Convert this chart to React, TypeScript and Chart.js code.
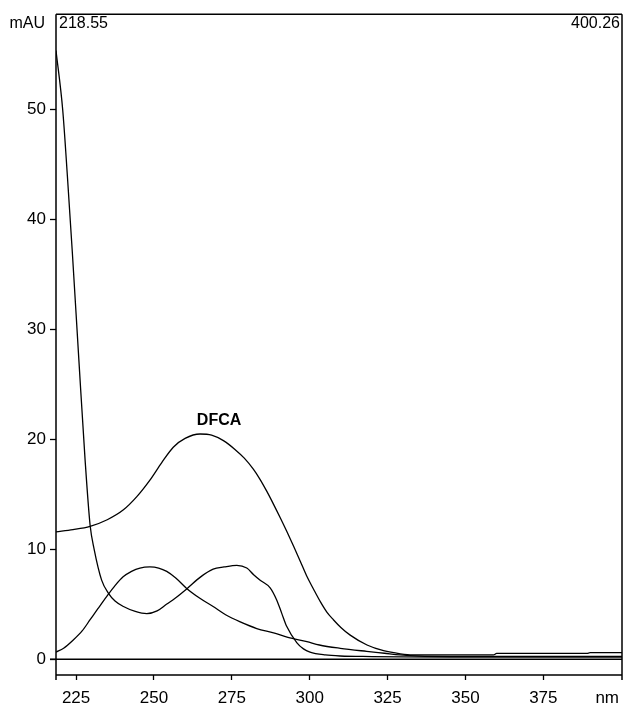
import React, { useEffect, useRef } from "react";
import { Chart, registerables } from "chart.js";

Chart.register(...registerables);

// ---- Data (wavelength in nm, absorbance in mAU) ----
const xMin = 218.55;
const xMax = 400.26;
const yMin = -1.43;
const yMax = 58.7;

const xTicks = [225, 250, 275, 300, 325, 350, 375];
const yTicks = [0, 10, 20, 30, 40, 50];

const xAxisUnit = "nm";
const yAxisUnit = "mAU";
const rangeStartLabel = "218.55";
const rangeEndLabel = "400.26";

// Steep curve (decaying, minimum ~248 nm, peak ~277 nm)
const nmA = [
  218.55, 220.7, 222.2, 223.8, 225.9, 227.9, 229.5, 230.8, 233.2, 235.4, 237.5,
  240.2, 244, 247.7, 251, 254, 257, 260.5, 265, 269, 272.5, 276.6, 279.8, 282,
  284.1, 287.3, 289.4, 291, 292.6, 295.9, 298, 300.1, 305, 309.8, 320, 330, 345,
  400.26,
];
const mauA = [
  55.4, 50, 44, 37, 27.2, 18.1, 12.2, 10, 7.2, 6.0, 5.3, 4.8, 4.35, 4.15, 4.4,
  5.0, 5.6, 6.4, 7.5, 8.2, 8.4, 8.55, 8.3, 7.7, 7.2, 6.5, 5.4, 4.2, 3.0, 1.5,
  0.95, 0.66, 0.4, 0.3, 0.25, 0.22, 0.2, 0.2,
];

// Curve with maximum ~249 nm
const nmB = [
  218.55, 221, 224.1, 227, 229.5, 232, 234.8, 237.5, 240.1, 242.8, 245.5, 248.7,
  251.5, 254.1, 257, 260.5, 264.5, 269, 273, 277.7, 283, 288.4, 293, 299.1,
  303.1, 309.8, 318.3, 324, 329, 335, 345, 400.26,
];
const mauB = [
  0.65, 1.0, 1.75, 2.6, 3.6, 4.6, 5.7, 6.7, 7.5, 8.0, 8.3, 8.4, 8.3, 8.0, 7.4,
  6.45, 5.6, 4.8, 4.05, 3.4, 2.8, 2.4, 2.0, 1.6, 1.3, 1.0, 0.72, 0.55, 0.4, 0.3,
  0.27, 0.27,
];

// DFCA (broad band, maximum ~265 nm)
const nmC = [
  218.55, 224, 229.5, 235, 240.2, 244.5, 248.7, 252.5, 256.2, 260, 264.8, 268.5,
  272.3, 276, 279, 281.9, 284, 286.2, 288.4, 290.5, 292.7, 294.8, 297, 299,
  301.2, 303.5, 305.5, 307.6, 310, 313, 318.4, 323.7, 329.1, 333, 359, 360, 389,
  390, 400.26,
];
const mauC = [
  11.6, 11.8, 12.1, 12.7, 13.6, 14.8, 16.3, 17.9, 19.3, 20.1, 20.5, 20.4, 19.9,
  19.1, 18.3, 17.3, 16.4, 15.3, 14.1, 12.9, 11.6, 10.3, 8.9, 7.6, 6.4, 5.2, 4.3,
  3.6, 2.9, 2.2, 1.3, 0.78, 0.5, 0.4, 0.4, 0.53, 0.53, 0.6, 0.6,
];

const dfcaLabel = "DFCA";
const dfcaLabelAt = { nm: 270.9, mau: 21.35 };

const FONT = "'Liberation Sans', Arial, Helvetica, sans-serif";

function toPoints(xs: number[], ys: number[]) {
  return xs.map((x, i) => ({ x, y: ys[i] }));
}

const framePlugin = {
  id: "frameAndLabels",
  afterDraw(chart: any) {
    const { ctx, chartArea, scales } = chart;
    const { left, top, right, bottom } = chartArea;
    const xs = scales.x;
    const ys = scales.y;
    ctx.save();
    ctx.strokeStyle = "#000";
    ctx.lineWidth = 1.5;
    ctx.beginPath();
    ctx.moveTo(left, top);
    ctx.lineTo(right, top);
    ctx.moveTo(left, top);
    ctx.lineTo(left, bottom + 5);
    ctx.moveTo(right, top);
    ctx.lineTo(right, bottom + 5);
    ctx.moveTo(left, bottom);
    ctx.lineTo(right, bottom);
    ctx.stroke();

    // zero line
    const y0 = ys.getPixelForValue(0);
    ctx.beginPath();
    ctx.lineWidth = 1.5;
    ctx.moveTo(left - 6, y0);
    ctx.lineTo(right, y0);
    ctx.stroke();

    ctx.fillStyle = "#000";
    ctx.textBaseline = "alphabetic";
    ctx.font = `16px ${FONT}`;
    ctx.textAlign = "right";
    ctx.fillText(yAxisUnit, left - 11, top + 14);
    ctx.textAlign = "left";
    ctx.fillText(rangeStartLabel, left + 3, top + 14);
    ctx.textAlign = "right";
    ctx.fillText(rangeEndLabel, right - 2, top + 14);

    ctx.font = `17px ${FONT}`;
    ctx.textAlign = "right";
    ctx.fillText(xAxisUnit, right - 3, bottom + 28);

    ctx.font = `bold 16px ${FONT}`;
    ctx.textAlign = "center";
    ctx.fillText(
      dfcaLabel,
      xs.getPixelForValue(dfcaLabelAt.nm),
      ys.getPixelForValue(dfcaLabelAt.mau)
    );
    ctx.restore();
  },
};

export default function App() {
  const canvasRef = useRef<HTMLCanvasElement | null>(null);

  useEffect(() => {
    const canvas = canvasRef.current;
    if (!canvas) return;
    const lineStyle = {
      borderColor: "#000",
      borderWidth: 1.3,
      pointRadius: 0,
      fill: false,
      cubicInterpolationMode: "monotone" as const,
    };
    const chart = new Chart(canvas, {
      type: "line",
      data: {
        datasets: [
          { label: "A", data: toPoints(nmA, mauA), ...lineStyle },
          { label: "B", data: toPoints(nmB, mauB), ...lineStyle },
          { label: "DFCA", data: toPoints(nmC, mauC), ...lineStyle },
        ],
      },
      options: {
        animation: false,
        responsive: false,
        devicePixelRatio: 1,
        layout: { padding: { top: 13, right: 1, left: 0, bottom: 0 } },
        plugins: {
          legend: { display: false },
          tooltip: { enabled: false },
        },
        scales: {
          x: {
            type: "linear",
            min: xMin,
            max: xMax,
            afterBuildTicks: (scale: any) => {
              scale.ticks = xTicks.map((v) => ({ value: v }));
            },
            afterFit: (scale: any) => {
              scale.height = 30;
            },
            border: { display: false },
            grid: {
              drawOnChartArea: false,
              drawTicks: true,
              tickLength: 5,
              tickColor: "#000",
              tickWidth: 1.3,
            },
            ticks: {
              color: "#000",
              font: { family: FONT, size: 17 },
              padding: 8,
              maxRotation: 0,
              autoSkip: false,
            },
          },
          y: {
            type: "linear",
            min: yMin,
            max: yMax,
            afterBuildTicks: (scale: any) => {
              scale.ticks = yTicks.map((v) => ({ value: v }));
            },
            afterFit: (scale: any) => {
              scale.width = 56;
            },
            border: { display: false },
            grid: {
              drawOnChartArea: false,
              drawTicks: true,
              tickLength: 6,
              tickColor: "#000",
              tickWidth: 1.3,
            },
            ticks: {
              color: "#000",
              font: { family: FONT, size: 17 },
              padding: 4,
              autoSkip: false,
            },
          },
        },
      },
      plugins: [framePlugin],
    });
    return () => chart.destroy();
  }, []);

  return (
    <div style={{ position: "absolute", left: 0, top: 0, width: 623, height: 705, background: "#fff" }}>
      <canvas ref={canvasRef} width={623} height={705} style={{ display: "block" }} />
    </div>
  );
}
